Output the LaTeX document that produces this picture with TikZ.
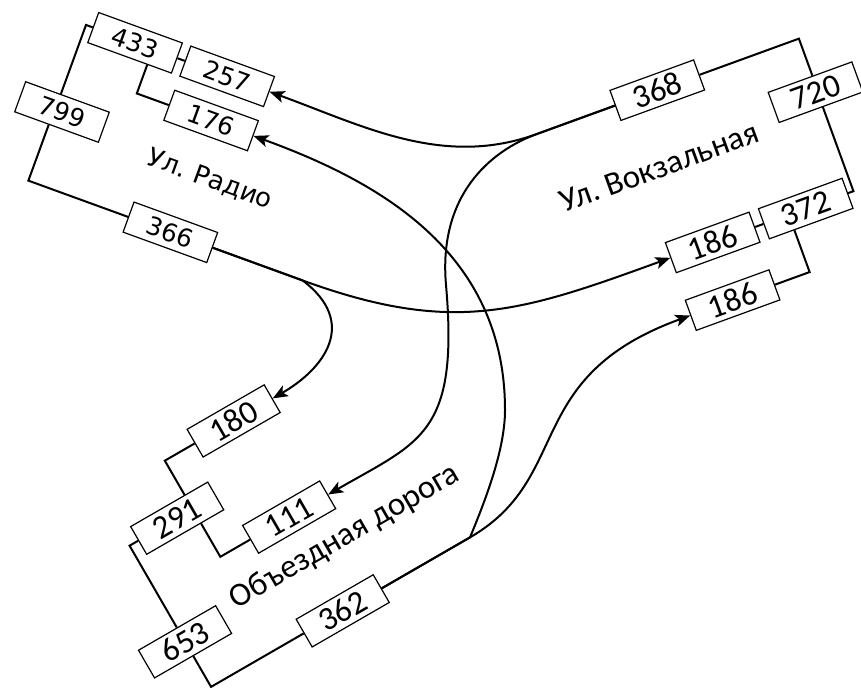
\documentclass[tikz,border=0pt]{standalone}
\usepackage{fontspec}
\usetikzlibrary{calc,arrows.meta}
\newfontfamily\dvfont{DejaVu Sans}
\newfontfamily\cbfont{Carlito}
\begin{document}
\frenchspacing
\begin{tikzpicture}[x=1pt,y=1pt,
  box/.style={draw,line width=1.2pt,minimum width=89pt,minimum height=32pt,inner sep=0pt,fill=white},
  rnum/.style={box,font=\dvfont\fontsize{25}{25}\selectfont},
  cnum/.style={box,font=\cbfont\fontsize{33}{33}\selectfont},
  rlabel/.style={inner sep=0pt,font=\dvfont\fontsize{26}{26}\selectfont},
  clabel/.style={inner sep=0pt,font=\cbfont\fontsize{33}{33}\selectfont},
  wire/.style={line width=2pt},
  arr/.style={wire,-{Stealth[length=15pt,width=12pt,inset=3.5pt]}}]
\useasboundingbox (0,0) rectangle (861,690);
% Ul. Radio
\begin{scope}[shift={(62,578)},rotate=-20,transform shape]
  \node[rnum] (n799) at (0,0) {799};
  \node[rnum] (n433) at (45,90) {433};
  \node[rnum] (n257) at (143,90) {257};
  \node[rnum] (n176) at (143,43) {176};
  \node[rnum] (n366) at (143,-76) {366};
  \node[rlabel] (lradio) at (162,-13) {Ул. Радио};
\end{scope}
% Ul. Vokzalnaya
\begin{scope}[shift={(815.5,597.8)},rotate=20,transform shape]
  \node[cnum] (n720) at (0,0) {720};
  \node[cnum] (n368) at (-148,56) {368};
  \node[cnum] (n372) at (-49,-106) {372};
  \node[cnum] (n186a) at (-148,-106) {186};
  \node[cnum] (n186b) at (-149,-167) {186};
  \node[clabel] (lvokz) at (-172,-17) {Ул. Вокзальная};
\end{scope}
% Obyezdnaya doroga
\begin{scope}[shift={(177.2,171.8)},rotate=30,transform shape]
  \node[cnum] (n291) at (0,0) {291};
  \node[cnum] (n180) at (97.5,56) {180};
  \node[cnum] (n111) at (97.5,-55) {111};
  \node[cnum] (n653) at (-55,-111) {653};
  \node[cnum] (n362) at (97,-163) {362};
  \node[clabel] (lobyezd) at (136,-100) {Объездная дорога};
\end{scope}
% tree lines, Radio
\coordinate (r1) at ($(n799.north west)!0.42!(n799.north east)$);
\draw[wire] (r1) -- ($(n433.west)!(r1)!(n433.east)$) -- (n433.west);
\coordinate (r2) at ($(n799.south west)!0.41!(n799.south east)$);
\draw[wire] (r2) -- ($(n366.west)!(r2)!(n366.east)$) -- (n366.west);
\draw[wire] (n433.east) -- (n257.west);
\coordinate (r3) at ($(n433.south west)!0.71!(n433.south east)$);
\draw[wire] (r3) -- ($(n176.west)!(r3)!(n176.east)$) -- (n176.west);
% tree lines, Vokzalnaya
\coordinate (v1) at ($(n720.north west)!0.53!(n720.north east)$);
\draw[wire] (n368.east) -- ($(n368.west)!(v1)!(n368.east)$) -- (v1);
\coordinate (v2) at ($(n720.south west)!0.52!(n720.south east)$);
\draw[wire] (v2) -- ($(n372.west)!(v2)!(n372.east)$) -- (n372.east);
\draw[wire] (n186a.east) -- (n372.west);
\coordinate (v3) at ($(n372.south west)!0.30!(n372.south east)$);
\draw[wire] (v3) -- ($(n186b.west)!(v3)!(n186b.east)$) -- (n186b.east);
% tree lines, Obyezdnaya
\coordinate (o1) at ($(n291.north west)!0.70!(n291.north east)$);
\draw[wire] (n180.west) -- ($(n180.west)!(o1)!(n180.east)$) -- (o1);
\coordinate (o2) at ($(n291.south west)!0.70!(n291.south east)$);
\draw[wire] (o2) -- ($(n111.west)!(o2)!(n111.east)$) -- (n111.west);
\draw[wire] (n291.west) -- ($(n291.west)!(n653.north)!(n291.east)$) -- (n653.north);
\draw[wire] (n653.south) -- ($(n362.west)!(n653.south)!(n362.east)$) -- (n362.west);
% junctions
\coordinate (j1) at ($(n368.west)!-0.92!(n368.east)$);
\coordinate (j2) at ($(n362.east)!-1.13!(n362.west)$);
\coordinate (j3) at ($(n366.east)!-1.06!(n366.west)$);
\coordinate (m1) at (446,405);
\coordinate (m2) at (505,280);
% flows
\draw[arr] (n368.west) -- (j1) .. controls +(200:100) and +(-20:100) .. (n257.east);
\draw[arr] (n368.west) -- (j1) .. controls +(200:50) and +(95:90) .. (m1)
  .. controls +(-85:150) and +(30:106) .. (n111.east);
\draw[arr] (n362.east) -- (j2) .. controls +(67.6:40) and +(-90:40) .. (m2)
  .. controls +(90:160) and +(-20:130) .. (n176.east);
\draw[arr] (n362.east) -- (j2) .. controls +(30:120) and +(200:180) .. (n186b.west);
\draw[arr] (n366.east) -- (j3) .. controls +(-37:70) and +(30:60) .. (n180.east);
\draw[arr] (n366.east) -- (j3) .. controls +(-20:160) and +(200:160) .. (n186a.west);
\end{tikzpicture}
\end{document}
